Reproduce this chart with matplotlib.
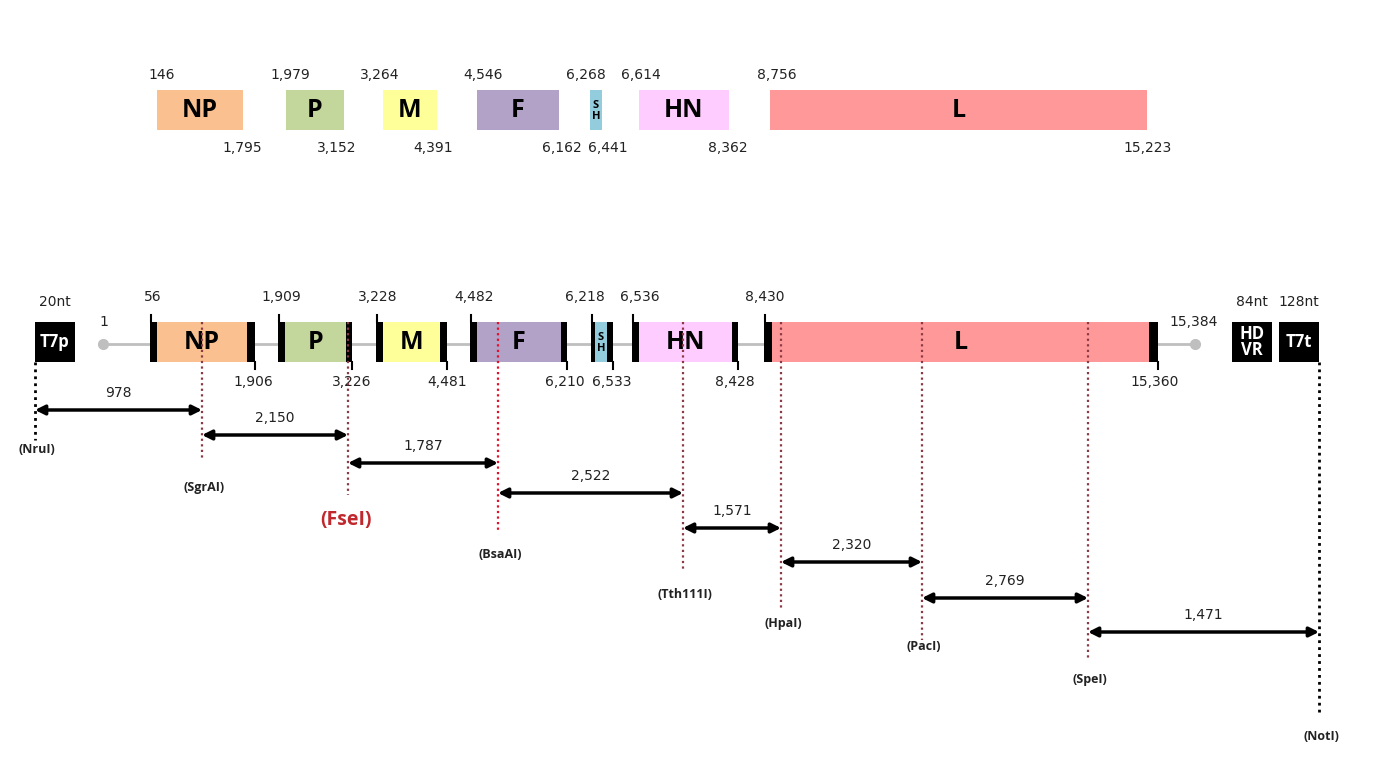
import numpy as np
import matplotlib.pyplot as plt

# genoma (mapa de genes) y fragmentos de clonado
genes = ['NP', 'P', 'M', 'F', 'SH', 'HN', 'L']
gene_colors = ['#FAC090', '#C3D69B', '#FFFF99', '#B3A2C7', '#93CDDD', '#FFCCFF', '#FF9999']

# fila superior: posiciones del genoma
top_start = ['146', '1,979', '3,264', '4,546', '6,268', '6,614', '8,756']
top_end = ['1,795', '3,152', '4,391', '6,162', '6,441', '8,362', '15,223']

# fila inferior: posiciones en el constructo
bot_start = ['56', '1,909', '3,228', '4,482', '6,218', '6,536', '8,430']
bot_end = ['1,906', '3,226', '4,481', '6,210', '6,533', '8,428', '15,360']

enzymes = ['(NruI)', '(SgrAI)', '(FseI)', '(BsaAI)', '(Tth111I)', '(HpaI)', '(PacI)', '(SpeI)', '(NotI)']
fragments = ['978', '2,150', '1,787', '2,522', '1,571', '2,320', '2,769', '1,471']

# layout del esquema (pixeles)
top_x = [157, 286, 383, 477, 590, 639, 770]
top_w = [86, 58, 54, 82, 12, 90, 377]
top_start_lx = [162, 290, 380, 483, 586, 641, 777]
top_end_lx = [242, 337, 433, 562, 608, 728, 1148]
bot_x = [150, 278, 376, 470, 591, 632, 764]
bot_w = [105, 74, 71, 97, 22, 106, 394]
bar_l = [7, 7, 7, 7, 4, 7, 8]
bar_r = [8, 6, 7, 6, 6, 6, 9]
bot_start_lx = [153, 281, 378, 474, 585, 640, 765]
bot_end_lx = [253, 352, 447, 565, 612, 735, 1155]
cut_x = [35, 202, 348, 498, 683, 781, 922, 1088, 1319]
cut_bottom = [440, 460, 495, 533, 571, 608, 640, 660, 715]
label_y = [449, 487, 520, 554, 594, 623, 646, 680, 737]
arrow_y = [410, 435, 463, 493, 528, 562, 598, 632]
cut_colors = ['black', '#8B3A45', '#8B3A45', '#E0102A', '#8B3A45', '#8B3A45', '#8B3A45', '#8B3A45', 'black']

num_font = dict(fontsize=10, family='DejaVu Sans', color='#222222')
gene_font = ['Open Sans', 'DejaVu Sans']

fig = plt.figure(figsize=(13.78, 7.78), dpi=100)
ax = fig.add_axes([0, 0, 1, 1])
ax.set_xlim(0, 1378)
ax.set_ylim(778, 0)
ax.axis('off')

# ---- fila superior ----
ax.bar(top_x, 40, width=top_w, bottom=90, align='edge', color=gene_colors, edgecolor='none')
for i in range(len(genes)):
    xc = top_x[i] + top_w[i] / 2
    if genes[i] == 'SH':
        ax.text(xc, 111, 'S\nH', ha='center', va='center', fontsize=8, fontweight='bold',
                family=gene_font, linespacing=0.95)
    else:
        ax.text(xc, 110, genes[i], ha='center', va='center', fontsize=18, fontweight='bold',
                family=gene_font)
    ax.text(top_start_lx[i], 75, top_start[i], ha='center', va='center', **num_font)
    ax.text(top_end_lx[i], 148, top_end[i], ha='center', va='center', **num_font)

# ---- fila inferior ----
ax.plot([103, 1195], [344, 344], color='#BFBFBF', lw=2, zorder=1)
ax.plot([103, 1195], [344, 344], 'o', color='#BFBFBF', ms=7, zorder=1)
ax.text(104, 322, '1', ha='center', va='center', **num_font)
ax.text(1194, 322, '15,384', ha='center', va='center', **num_font)

for i in range(len(genes)):
    x0 = bot_x[i]
    w = bot_w[i]
    ax.bar(x0, 40, width=w, bottom=322, align='edge', color=gene_colors[i], edgecolor='none', zorder=2)
    # barras negras de inicio y fin
    ax.bar(x0, 40, width=bar_l[i], bottom=322, align='edge', color='black', zorder=3)
    ax.bar(x0 + w - bar_r[i], 40, width=bar_r[i], bottom=322, align='edge', color='black', zorder=3)
    ax.plot([x0 + 0.5, x0 + 0.5], [315, 322], color='black', lw=1.5, zorder=3)
    ax.plot([x0 + w - 0.5, x0 + w - 0.5], [362, 369], color='black', lw=1.5, zorder=3)
    xc = x0 + bar_l[i] + (w - bar_l[i] - bar_r[i]) / 2
    if genes[i] == 'SH':
        ax.text(xc, 343, 'S\nH', ha='center', va='center', fontsize=8, fontweight='bold',
                family=gene_font, linespacing=0.95, zorder=4)
    else:
        ax.text(xc, 342, genes[i], ha='center', va='center', fontsize=18, fontweight='bold',
                family=gene_font, zorder=4)
    ax.text(bot_start_lx[i], 297, bot_start[i], ha='center', va='center', **num_font)
    ax.text(bot_end_lx[i], 382, bot_end[i], ha='center', va='center', **num_font)

# cajas negras T7p, HDVR, T7t
ends = [(35, 'T7p', '20nt'), (1232, 'HD\nVR', '84nt'), (1279, 'T7t', '128nt')]
for x0, name, nt in ends:
    ax.bar(x0, 40, width=40, bottom=322, align='edge', color='black', zorder=3)
    ax.text(x0 + 20, 342, name, ha='center', va='center', color='white', fontsize=12,
            fontweight='bold', family=gene_font, linespacing=0.9, zorder=4)
    ax.text(x0 + 20, 302, nt, ha='center', va='center', **num_font)

# sitios de corte
for i in range(len(enzymes)):
    top = 362 if cut_colors[i] == 'black' else 322
    ax.vlines(cut_x[i], top, cut_bottom[i], colors=cut_colors[i], linestyles=(0, (1, 1.5)),
              lw=2 if cut_colors[i] == 'black' else 1.6, zorder=5)
    if enzymes[i] == '(FseI)':
        ax.text(cut_x[i] - 2, label_y[i], enzymes[i], ha='center', va='center', fontsize=14,
                fontweight='bold', color='#C0282D', family=gene_font)
    else:
        ax.text(cut_x[i] + 2, label_y[i], enzymes[i], ha='center', va='center', fontsize=9,
                fontweight='bold', color='#222222', family=gene_font)

# fragmentos
for i in range(len(fragments)):
    x1, x2 = cut_x[i], cut_x[i + 1]
    ax.annotate('', xy=(x2, arrow_y[i]), xytext=(x1, arrow_y[i]),
                arrowprops=dict(arrowstyle='<|-|>', lw=2.5, color='black', shrinkA=0, shrinkB=0,
                                mutation_scale=14))
    ax.text((x1 + x2) / 2, arrow_y[i] - 17, fragments[i], ha='center', va='center', **num_font)

plt.savefig('out.png', dpi=100)
